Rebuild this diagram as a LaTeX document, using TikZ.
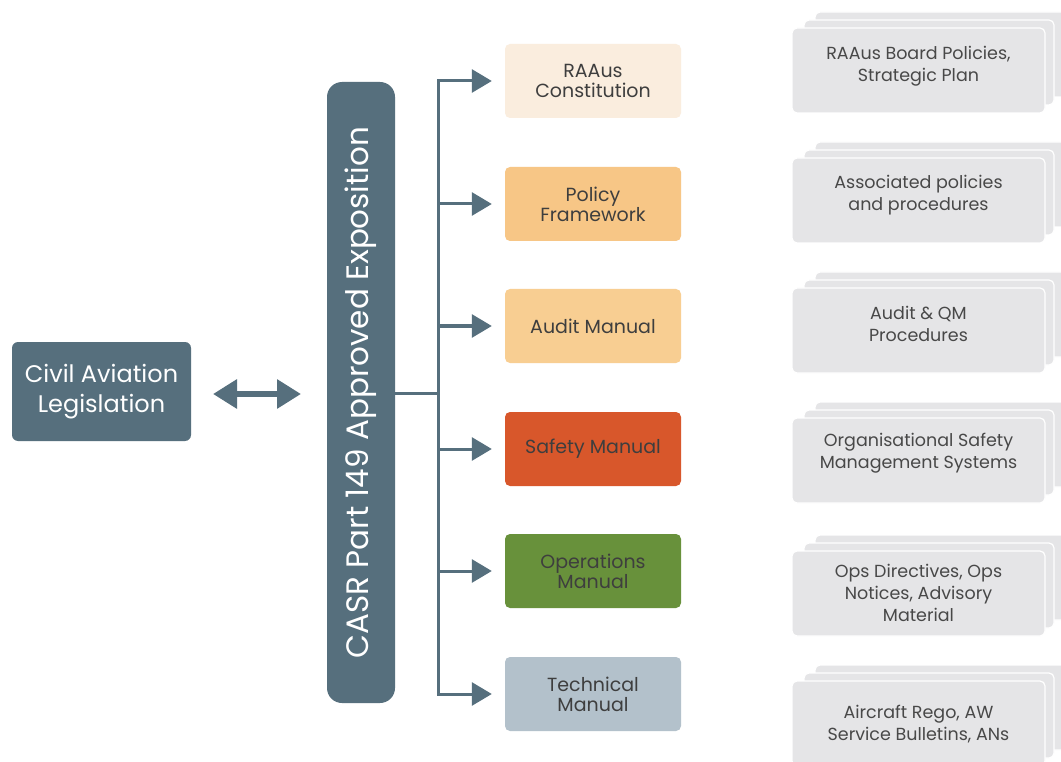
\documentclass[tikz,border=0pt]{standalone}
\usepackage{fontspec}
\setmainfont{Poppins}
\usetikzlibrary{arrows.meta}
\definecolor{slate}{RGB}{86,111,125}
\definecolor{cream}{RGB}{250,237,222}
\definecolor{peach}{RGB}{247,198,134}
\definecolor{peachlt}{RGB}{248,206,146}
\definecolor{rust}{RGB}{216,87,43}
\definecolor{leaf}{RGB}{104,145,59}
\definecolor{steel}{RGB}{179,193,203}
\definecolor{paper}{RGB}{229,229,231}
\definecolor{ink}{RGB}{62,62,62}
\definecolor{greyink}{RGB}{72,72,72}
\tikzset{
  manbox/.style={rectangle, rounded corners=5pt, minimum width=176pt, minimum height=74pt,
    align=center, text=ink, font=\fontsize{19}{20}\selectfont, inner sep=0pt},
  sheet/.style={fill=paper, draw=white, line width=1.2pt, rounded corners=5pt},
  sheettext/.style={align=center, text=greyink, font=\fontsize{17.5}{22}\selectfont, inner sep=0pt},
  branch/.style={draw=slate, line width=3pt, -{Triangle[length=20pt,width=23pt]}, shorten >=13pt},
  trunk/.style={draw=slate, line width=3pt},
  twoway/.style={draw=slate, line width=6pt, {Triangle[length=24pt,width=28pt]}-{Triangle[length=24pt,width=28pt]}}
}
\begin{document}
\begin{tikzpicture}[x=1pt,y=-1pt]
\clip (0,0) rectangle (1061,762);
\fill[white] (0,0) rectangle (1061,762);

% left box
\node[rectangle, rounded corners=6pt, fill=slate, minimum width=179pt, minimum height=99pt,
  align=center, text=white, font=\fontsize{24}{30}\selectfont, inner sep=0pt]
  (law) at (101.5,391.5) {Civil Aviation\\Legislation};

% exposition bar
\node[rectangle, rounded corners=15pt, fill=slate, minimum width=621pt, minimum height=68pt,
  rotate=90, text=white, font=\fontsize{31}{33}\selectfont, inner sep=0pt]
  (expo) at (361,392.5) {CASR Part 149 Approved Exposition};

% two-way arrow
\coordinate (dl) at (213,394);
\coordinate (dr) at (301,394);
\draw[twoway] (dl) -- (dr);

% manuals
\node[manbox, fill=cream]   (m1) at (593,81)  {RAAus\\Constitution};
\node[manbox, fill=peach]   (m2) at (593,204) {Policy\\Framework};
\node[manbox, fill=peachlt] (m3) at (593,326) {Audit Manual};
\node[manbox, fill=rust]    (m4) at (593,449) {Safety Manual};
\node[manbox, fill=leaf]    (m5) at (593,571) {Operations\\Manual};
\node[manbox, fill=steel]   (m6) at (593,694) {Technical\\Manual};

% tree connectors
\coordinate (j) at (438,393);
\coordinate (s1) at (438,81);
\coordinate (s2) at (438,204);
\coordinate (s3) at (438,326);
\coordinate (s4) at (438,449);
\coordinate (s5) at (438,571);
\coordinate (s6) at (438,694);
\draw[trunk] (expo.south |- j) -- (j);
\draw[trunk] ([yshift=1.5pt]s1) -- ([yshift=-1.5pt]s6);
\foreach \i in {1,...,6} { \draw[branch] (s\i) -- (m\i.west); }

% stacked sheets
\foreach \cy/\ty/\name/\txt in {
  70/66/d1/{RAAus Board Policies,\\Strategic Plan},
  200/195/d2/{Associated policies\\and procedures},
  330/324/d3/{Audit \& QM\\Procedures},
  460/453/d4/{Organisational Safety\\Management Systems},
  593/593/d5/{Ops Directives, Ops\\Notices, Advisory\\Material},
  723/724/d6/{Aircraft Rego, AW\\Service Bulletins, ANs}} {
  \draw[sheet] (815,\cy-58) rectangle (1075,\cy+27);
  \draw[sheet] (804,\cy-50) rectangle (1054,\cy+35);
  \draw[sheet] (792,\cy-42) rectangle (1045,\cy+43);
  \node[sheettext] (\name) at (918.5,\ty) {\txt};
}
\end{tikzpicture}
\end{document}
